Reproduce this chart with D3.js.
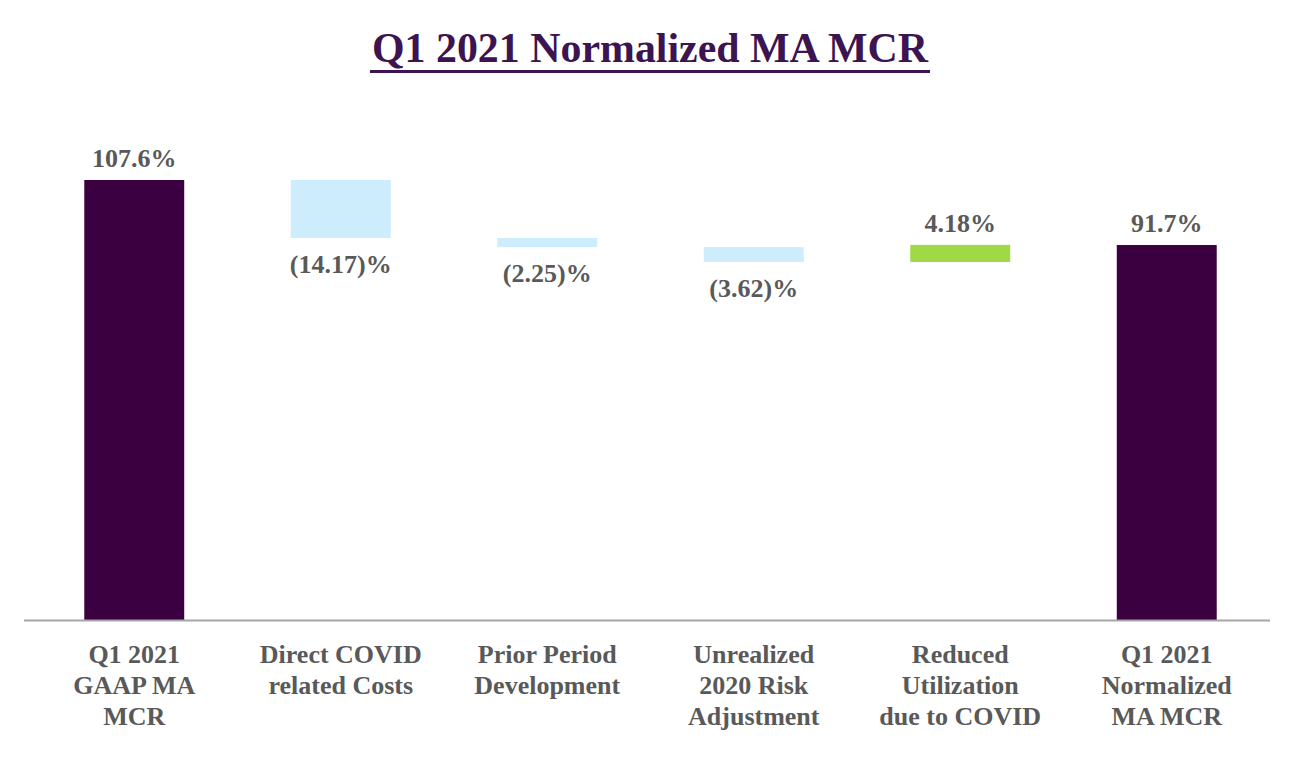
<!DOCTYPE html>
<html>
<head>
<meta charset="utf-8">
<script src="https://cdn.jsdelivr.net/npm/d3@7"></script>
<style>
  body { margin: 0; background: #fff; }
  text { font-family: "Liberation Serif", "Times New Roman", serif; font-weight: bold; }
</style>
</head>
<body>
<div id="chart"></div>
<script>
// data
var categories = [
  'Q1 2021|GAAP MA|MCR',
  'Direct COVID|related Costs',
  'Prior Period|Development',
  'Unrealized|2020 Risk|Adjustment',
  'Reduced|Utilization|due to COVID',
  'Q1 2021|Normalized|MA MCR'
]
var kinds = ['total', 'delta', 'delta', 'delta', 'delta', 'total']
var values = [107.6, -14.17, -2.25, -3.62, 4.18, 91.7]
var valueLabels = ['107.6%', '(14.17)%', '(2.25)%', '(3.62)%', '4.18%', '91.7%']

;(function () {
  var width = 1300
  var height = 760
  var baseY = 620

  var svg = d3.select('#chart')
    .append('svg')
    .attr('width', width)
    .attr('height', height)

  // running totals for the floating steps
  var run = 0
  var steps = values.map(function (v, i) {
    var s
    if (kinds[i] === 'total') {
      s = { y0: 0, y1: v }
      run = v
    } else {
      s = { y0: run, y1: run + v }
      run = run + v
    }
    s.name = categories[i]
    s.value = v
    s.kind = kinds[i]
    s.label = valueLabels[i]
    return s
  })

  var x = d3.scaleBand()
    .domain(categories)
    .range([31, 1270])
    .paddingInner(0.516)
    .paddingOuter(0.258)

  var y = d3.scaleLinear()
    .domain([0, 107.6])
    .range([baseY, 180])

  var fillFor = function (d) {
    if (d.kind === 'total') return '#3a003f'
    return d.value < 0 ? '#cdedfc' : '#9fd945'
  }

  // title
  svg.append('text')
    .attr('x', 650)
    .attr('y', 62)
    .attr('text-anchor', 'middle')
    .attr('fill', '#3b1451')
    .attr('textLength', 556)
    .attr('lengthAdjust', 'spacingAndGlyphs')
    .style('font-size', '43px')
    .text('Q1 2021 Normalized MA MCR')
  svg.append('rect')
    .attr('x', 370)
    .attr('y', 70)
    .attr('width', 560)
    .attr('height', 3)
    .attr('fill', '#3b1451')

  svg.selectAll('rect.bar')
    .data(steps)
    .enter().append('rect')
    .attr('class', 'bar')
    .attr('x', function (d) { return x(d.name) })
    .attr('width', x.bandwidth())
    .attr('y', function (d) { return y(Math.max(d.y0, d.y1)) })
    .attr('height', function (d) { return Math.abs(y(d.y0) - y(d.y1)) })
    .attr('fill', fillFor)

  // value labels: above for totals / increases, below for decreases
  svg.selectAll('text.val')
    .data(steps)
    .enter().append('text')
    .attr('class', 'val')
    .attr('x', function (d) { return x(d.name) + x.bandwidth() / 2 })
    .attr('y', function (d) {
      if (d.value < 0) return y(Math.min(d.y0, d.y1)) + 35
      return y(Math.max(d.y0, d.y1)) - 13
    })
    .attr('text-anchor', 'middle')
    .attr('fill', '#595959')
    .style('font-size', '26px')
    .text(function (d) { return d.label })

  // axis
  var xAxis = d3.axisBottom(x).tickSize(0).tickFormat('')
  var axisG = svg.append('g')
    .attr('class', 'axis x-axis')
    .attr('transform', 'translate(0,' + baseY + ')')
    .call(xAxis)
  axisG.select('.domain')
    .attr('d', 'M24,0.5H1270')
    .attr('stroke', '#a6a6a6')
    .attr('stroke-width', 2)

  axisG.selectAll('.tick').each(function (d) {
    var lines = d.split('|')
    var t = d3.select(this).append('text')
      .attr('text-anchor', 'middle')
      .attr('fill', '#595959')
      .style('font-size', '26px')
    lines.forEach(function (line, i) {
      t.append('tspan')
        .attr('x', 0)
        .attr('y', 43 + i * 31)
        .text(line)
    })
  })
})()
</script>
</body>
</html>
